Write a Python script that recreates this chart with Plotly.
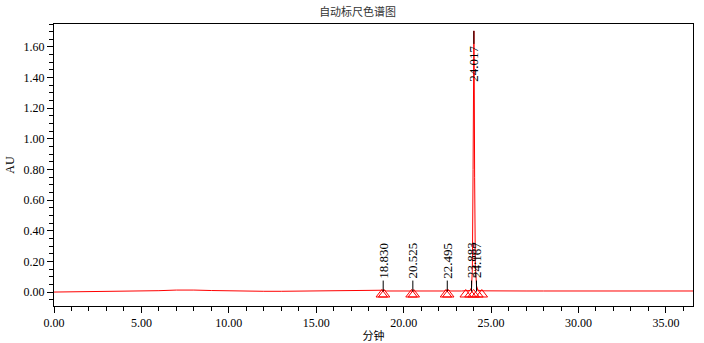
import plotly.graph_objects as go

# chromatogram trace (minutes, AU)
time_min = [0, 1, 2, 3, 4, 5, 6, 7, 7.5, 8, 9, 10, 11, 12, 13, 14, 15, 16, 17, 18,
            18.6, 18.83, 19.0, 19.5, 20.3, 20.525, 20.75, 21.5, 22.3, 22.495, 22.7,
            23.3, 23.7, 23.8, 23.883, 23.93, 23.97, 24.0, 24.017, 24.035, 24.06, 24.1,
            24.167, 24.25, 24.5, 25, 26, 27, 28, 29, 30, 31, 32, 33, 34, 35, 36, 36.55]
signal_au = [0.000, 0.001, 0.002, 0.003, 0.004, 0.006, 0.009, 0.013, 0.014, 0.013, 0.010,
             0.007, 0.005, 0.005, 0.005, 0.006, 0.006, 0.007, 0.007, 0.007,
             0.007, 0.012, 0.007, 0.007, 0.007, 0.011, 0.007, 0.007, 0.007, 0.012, 0.007,
             0.007, 0.008, 0.010, 0.030, 0.150, 0.800, 1.500, 1.705, 1.450, 0.750, 0.180,
             0.040, 0.012, 0.008, 0.007, 0.007, 0.007, 0.007, 0.007, 0.007, 0.007, 0.007,
             0.007, 0.007, 0.007, 0.007, 0.007]

# labelled peaks
peak_times = [18.830, 20.525, 22.495, 23.883, 24.017, 24.167]
peak_labels = ["18.830", "20.525", "22.495", "23.883", "24.017", "24.167"]
peak_heights = [0.012, 0.011, 0.012, 0.030, 1.705, 0.040]

# integration start/end markers
marker_times = [18.75, 18.88, 20.45, 20.58, 22.42, 22.55, 23.55, 23.82, 24.00, 24.22, 24.47]
marker_au = [-0.016] * len(marker_times)

small_label_base = 0.075
main_label_top = 1.62

serif = "Liberation Serif"
cjk = "Noto Sans CJK SC"

fig = go.Figure()
fig.add_trace(go.Scatter(x=time_min, y=signal_au, mode="lines",
                         line=dict(color="#ff0000", width=1), hoverinfo="skip",
                         showlegend=False))
fig.add_trace(go.Scatter(x=marker_times, y=marker_au, mode="markers",
                         marker=dict(symbol="triangle-up-open", size=10, color="#ff0000",
                                     line=dict(width=1, color="#ff0000")),
                         hoverinfo="skip", showlegend=False))

for t, lab, h in zip(peak_times, peak_labels, peak_heights):
    if h > 1.0:
        fig.add_shape(type="line", x0=t, x1=t, y0=main_label_top, y1=h,
                      xref="x", yref="y", line=dict(color="black", width=1))
        fig.add_annotation(x=t, y=main_label_top, xref="x", yref="y", text=lab,
                           textangle=-90, showarrow=False, xanchor="center",
                           yanchor="top", font=dict(family=serif, size=13, color="black"))
    else:
        fig.add_shape(type="line", x0=t, x1=t, y0=0.004, y1=small_label_base,
                      xref="x", yref="y", line=dict(color="black", width=1))
        fig.add_annotation(x=t, y=small_label_base, xref="x", yref="y", text=lab,
                           textangle=-90, showarrow=False, xanchor="center",
                           yanchor="bottom", font=dict(family=serif, size=13, color="black"))

fig.update_layout(
    width=704, height=343,
    margin=dict(l=54, r=11, t=24, b=37, autoexpand=False),
    paper_bgcolor="white", plot_bgcolor="white",
    title=dict(text="自动标尺色谱图", x=0.508, xanchor="center", y=0.965, yanchor="middle",
               xref="container", yref="container",
               font=dict(family=cjk, size=11, color="#333333")),
    font=dict(family=serif, size=12, color="black"),
)
fig.update_xaxes(range=[0, 36.55], tick0=0, dtick=5, tickformat=".2f", automargin=False,
                 showgrid=False, zeroline=False, showline=True, linecolor="black",
                 linewidth=1, mirror=True, ticks="outside", ticklen=6, tickcolor="black",
                 tickfont=dict(family=serif, size=12),
                 minor=dict(dtick=1, tick0=0, ticks="outside", ticklen=4, tickcolor="black"),
                 title=dict(text="分钟", font=dict(family=cjk, size=11), standoff=2))
fig.update_yaxes(range=[-0.091, 1.75], tick0=0, dtick=0.2, tickformat=".2f", automargin=False,
                 showgrid=False, zeroline=False, showline=True, linecolor="black",
                 linewidth=1, mirror=True, ticks="outside", ticklen=6, tickcolor="black",
                 tickfont=dict(family=serif, size=12),
                 minor=dict(dtick=0.05, tick0=0, ticks="outside", ticklen=4, tickcolor="black"),
                 title=dict(text="AU", font=dict(family=serif, size=12), standoff=6))

fig.write_html("out.html", config={"displayModeBar": False},
               post_script="document.body.style.margin='0';")
